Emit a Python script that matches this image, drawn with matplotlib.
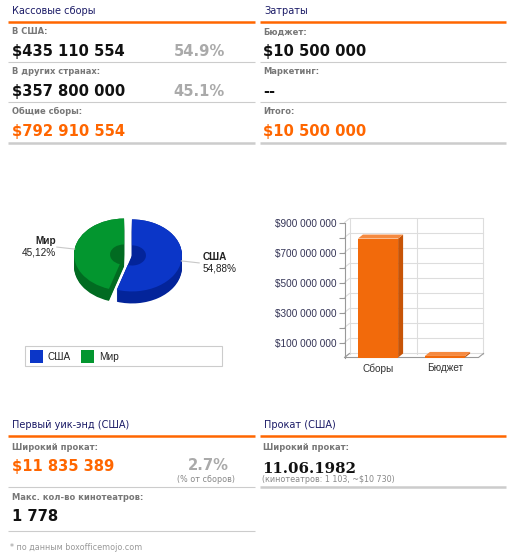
import numpy as np
import matplotlib.pyplot as plt
from matplotlib.patches import Polygon, Rectangle
from matplotlib.ticker import FuncFormatter

# --- Data ---
box_labels = ["В США:", "В других странах:", "Общие сборы:"]
box_values = [435110554, 357800000, 792910554]
box_shares = ["54.9%", "45.1%", None]

cost_labels = ["Бюджет:", "Маркетинг:", "Итого:"]
cost_values = ["$10 500 000", "--", "$10 500 000"]

pie_labels = ["США", "Мир"]
pie_shares = [54.88, 45.12]

bar_labels = ["Сборы", "Бюджет"]
bar_values = [792910554, 10500000]
bar_ticks = [100e6, 200e6, 300e6, 400e6, 500e6, 600e6, 700e6, 800e6, 900e6]

opening_value = 11835389
opening_share = "2.7%"
max_theaters = 1778
release_date = "11.06.1982"
release_note = "(кинотеатров: 1 103, ~$10 730)"

# --- Colours ---
NAVY = '#1a1a66'
ORANGE = '#ff6600'
GRAY = '#777777'
LIGHT = '#aaaaaa'
SEP = '#cccccc'
pie_top = ['#0b36c8', '#03962f']
pie_side = ['#03249a', '#016b21']
bar_front, bar_side, bar_topc = '#f26a0b', '#c75407', '#f58a40'

SANS = 'DejaVu Sans'
CHART = 'Liberation Sans'


def money(v):
    return "$" + f"{int(v):,}".replace(",", " ")


W, H = 513, 553
fig = plt.figure(figsize=(W / 100, H / 100), dpi=100)
bg = fig.add_axes([0, 0, 1, 1])
bg.set_xlim(0, W)
bg.set_ylim(H, 0)
bg.axis('off')


def px_axes(x0, y0, x1, y1):
    return fig.add_axes([x0 / W, 1 - y1 / H, (x1 - x0) / W, (y1 - y0) / H])


def hline(x0, x1, y, color=SEP, lw=0.8):
    bg.plot([x0, x1], [y, y], color=color, lw=lw, solid_capstyle='butt')


def header(x0, x1, y, title):
    bg.text(x0 + 4, y + 2.5, title, color=NAVY, fontsize=7, family=SANS, va='baseline')
    hline(x0, x1, y + 10.7, ORANGE, 1.8)


def label(x, y, text):
    bg.text(x, y + 2.8, text, color=GRAY, fontsize=6, fontweight='bold', family=SANS, va='baseline')


def value(x, y, text, color='#111111', ha='left'):
    bg.text(x, y + 5.5, text, color=color, fontsize=10.6, fontweight='bold', family=SANS,
            va='baseline', ha=ha)


# --- Box office panel ---
header(8, 255, 11, "Кассовые сборы")
for i, (lab, val, share) in enumerate(zip(box_labels, box_values, box_shares)):
    y = 31.7 + 40 * i
    label(12, y, lab)
    value(12, y + 19, money(val), ORANGE if i == 2 else '#111111')
    if share:
        value(225, y + 19, share, LIGHT, ha='right')
    if i < 2:
        hline(8, 255, y + 30)
hline(8, 255, 143.3, SEP, 1.8)

# --- Costs panel ---
header(260, 506, 11, "Затраты")
for i, (lab, val) in enumerate(zip(cost_labels, cost_values)):
    y = 31.7 + 40 * i
    label(263, y, lab)
    value(263, y + 19, val, ORANGE if i == 2 else '#111111')
    if i < 2:
        hline(260, 506, y + 30)
hline(260, 506, 143.3, SEP, 1.8)

# --- Pie chart (3D look) ---
rx, ry, depth = 50, 36, 12
cx, cy = 128, 255
pax = px_axes(cx - 1.5 * rx, cy - 1.5 * ry, cx + 1.5 * rx, cy + 1.5 * ry + depth)
explode = [0.08, 0.08]
for k in range(depth, -1, -1):
    pax.pie(pie_shares, colors=pie_side, startangle=90, counterclock=False,
            explode=explode, center=(0, -k / ry), wedgeprops=dict(linewidth=0))
wedges, _ = pax.pie(pie_shares, colors=pie_top, startangle=90, counterclock=False,
                    explode=explode, wedgeprops=dict(width=0.72, linewidth=0))
pax.set_aspect('auto')
pax.set_xlim(-1.5, 1.5)
pax.set_ylim(-1.5 - depth / ry, 1.5)
pax.axis('off')
for w, name, share, e in zip(wedges, pie_labels, pie_shares, explode):
    th = np.deg2rad((w.theta1 + w.theta2) / 2)
    c, s = np.cos(th), np.sin(th)
    x_end, y_end = 1.44 * c, 1.44 * s
    pax.plot([(1 + e) * c, x_end], [(1 + e) * s, y_end], color='#c8c8c8', lw=0.8,
             clip_on=False)
    ha = 'left' if c > 0 else 'right'
    xt = x_end + (0.06 if c > 0 else -0.02)
    pax.text(xt, y_end + 0.02, name, ha=ha, va='bottom', fontsize=7.2,
             fontweight='bold', family=CHART, color='#222222')
    pax.text(xt, y_end - 0.02, f"{share:.2f}%".replace(".", ","), ha=ha, va='top',
             fontsize=7.2, family=CHART, color='#222222')

# pie legend
bg.add_patch(Rectangle((24.5, 345.5), 197, 20.5, facecolor='white', edgecolor=SEP, lw=0.8))
for i, (name, col) in enumerate(zip(pie_labels, pie_top)):
    x = 30 + 51 * i
    bg.add_patch(Rectangle((x, 350), 13, 13, facecolor=col, edgecolor='none'))
    bg.text(x + 18, 360.5, name, fontsize=7.2, family=CHART, color='#222222', va='baseline')

# --- Bar chart (3D look) ---
ppu_x = 67.0           # pixels per category
ppu_y = 0.15e-6        # pixels per dollar
ddx, ddy = 5 / ppu_x, 4 / ppu_y
ytop = 930e6
x0 = 344.5
bax = px_axes(x0, 357.5 - ytop * ppu_y, x0 + (2 + ddx) * ppu_x, 357.5)
bax.set_xlim(-0.5, 1.5 + ddx)
bax.set_ylim(0, ytop)
for sp in ['top', 'right', 'bottom']:
    bax.spines[sp].set_visible(False)
bax.spines['left'].set_color('#999999')
bax.spines['left'].set_linewidth(0.8)
bax.spines['left'].set_bounds(0, bar_ticks[-1])

# back wall grid
for v in [0] + bar_ticks:
    bax.plot([-0.5, -0.5 + ddx, 1.5 + ddx], [v, v + ddy, v + ddy], color='#dddddd',
             lw=0.8, zorder=1, clip_on=False)
for xv in [-0.5, 0.5, 1.5]:
    bax.plot([xv + ddx, xv + ddx], [ddy, bar_ticks[-1] + ddy], color='#dddddd', lw=0.8,
             zorder=1, clip_on=False)
# floor
bax.plot([-0.5 + ddx, -0.5, 1.5, 1.5 + ddx], [ddy, 0, 0, ddy], color='#999999', lw=0.8,
         zorder=2, clip_on=False)

bw = 0.6
xs = np.arange(len(bar_values))
bax.bar(xs, bar_values, width=bw, color=bar_front, zorder=3)
for xc, h in zip(xs, bar_values):
    r = xc + bw / 2
    l = xc - bw / 2
    bax.add_patch(Polygon([(r, 0), (r + ddx, ddy), (r + ddx, h + ddy), (r, h)],
                          closed=True, facecolor=bar_side, edgecolor='none', zorder=3))
    bax.add_patch(Polygon([(l, h), (r, h), (r + ddx, h + ddy), (l + ddx, h + ddy)],
                          closed=True, facecolor=bar_topc, edgecolor='none', zorder=3))

bax.set_yticks(bar_ticks)
bax.yaxis.set_major_formatter(FuncFormatter(
    lambda v, p: money(v) if round(v / 1e8) % 2 == 1 else ""))
bax.tick_params(axis='y', length=4, width=0.8, color='#999999', pad=2,
                labelsize=7.2, labelcolor='#333355')
bax.set_xticks(xs)
bax.set_xticklabels(bar_labels)
bax.tick_params(axis='x', length=0, pad=4, labelsize=7.2, labelcolor='#333333')
for t in bax.get_xticklabels() + bax.get_yticklabels():
    t.set_family(CHART)

# --- Opening weekend panel ---
header(8, 255, 425, "Первый уик-энд (США)")
label(12, 446.7, "Широкий прокат:")
value(12, 465, money(opening_value), ORANGE)
value(229, 465, opening_share, LIGHT, ha='right')
bg.text(235, 479, "(% от сборов)", ha='right', va='center', fontsize=5.8, family=SANS,
        color='#888888')
hline(8, 255, 487)
label(12, 496.7, "Макс. кол-во кинотеатров:")
value(12, 515.7, f"{max_theaters:,}".replace(",", " "))
hline(8, 255, 531)
bg.text(10, 548, "* по данным boxofficemojo.com", va='center', fontsize=5.8, family=SANS,
        color='#999999')

# --- Release panel ---
header(260, 506, 425, "Прокат (США)")
label(263, 446.7, "Широкий прокат:")
bg.text(262, 472.7, release_date, fontsize=10.8, fontweight='bold', family='DejaVu Serif',
        color='#111111', va='baseline')
bg.text(262, 479, release_note, va='center', fontsize=5.8, family=SANS, color='#888888')
hline(260, 506, 487, SEP, 1.8)

fig.savefig('out.png', dpi=100)
